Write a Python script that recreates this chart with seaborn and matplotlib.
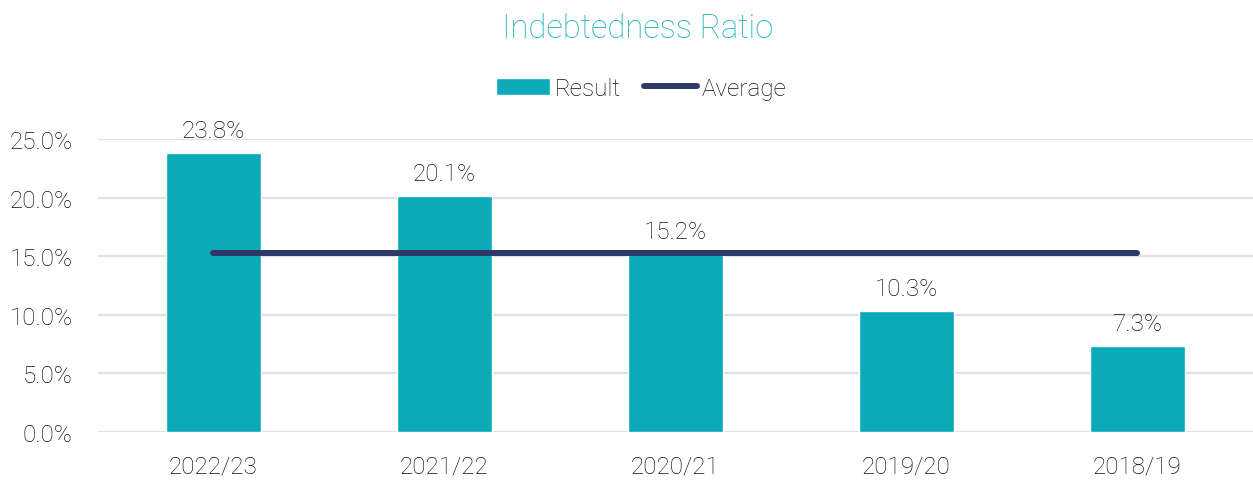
import numpy as np
import matplotlib
matplotlib.use('Agg')
import matplotlib.pyplot as plt
import seaborn as sns
from matplotlib.patches import Patch
from matplotlib.lines import Line2D

# Данные
years = ['2022/23', '2021/22', '2020/21', '2019/20', '2018/19']
result = [23.8, 20.1, 15.2, 10.3, 7.3]
average = [15.3, 15.3, 15.3, 15.3, 15.3]
y_ticks = [0, 5, 10, 15, 20, 25]

bar_color = '#0AAAB9'
line_color = '#2D3869'
text_color = '#111111'
fs = 17.5

sns.set_style('white')
plt.rcParams['font.family'] = ['Roboto', 'DejaVu Sans']
plt.rcParams['font.weight'] = 'light'

fig = plt.figure(figsize=(12.53, 4.81), dpi=100)
ax = fig.add_axes([0.078, 0.0998, 0.922, 0.609])

sns.barplot(x=years, y=result, color=bar_color, width=0.41, saturation=1, ax=ax, zorder=2)
ax.plot(np.arange(len(years)), average, color=line_color, lw=4.3,
        solid_capstyle='round', zorder=3)

for c in ax.containers:
    ax.bar_label(c, labels=[f'{v:.1f}%' for v in result], padding=8,
                 fontsize=fs, color=text_color, fontweight='light')

ax.set_ylim(0, 25)
ax.set_xlim(-0.5, len(years) - 0.5)
ax.set_yticks(y_ticks)
ax.set_yticklabels([f'{v:.1f}%' for v in y_ticks])
ax.yaxis.grid(True, color='#DEE2E8', lw=1.6, zorder=0)
ax.set_axisbelow(True)
ax.tick_params(axis='both', length=0, labelsize=fs, colors=text_color)
ax.tick_params(axis='y', pad=18)
ax.tick_params(axis='x', pad=16)
ax.set_xlabel('')
ax.set_ylabel('')
for s in ax.spines.values():
    s.set_visible(False)

handles = [Patch(facecolor=bar_color, label='Result'),
           Line2D([0], [0], color=line_color, lw=4.3, solid_capstyle='round', label='Average')]
fig.legend(handles=handles, loc='center', bbox_to_anchor=(0.512, 0.814), ncol=2,
           frameon=False, fontsize=fs, handlelength=2.2, handletextpad=0.2,
           columnspacing=0.95, labelcolor=text_color)

fig.text(0.509, 0.94, 'Indebtedness Ratio', ha='center', va='center',
         fontsize=23.5, color='#1AB2BF', fontweight='light')

fig.savefig('out.png', dpi=100)
